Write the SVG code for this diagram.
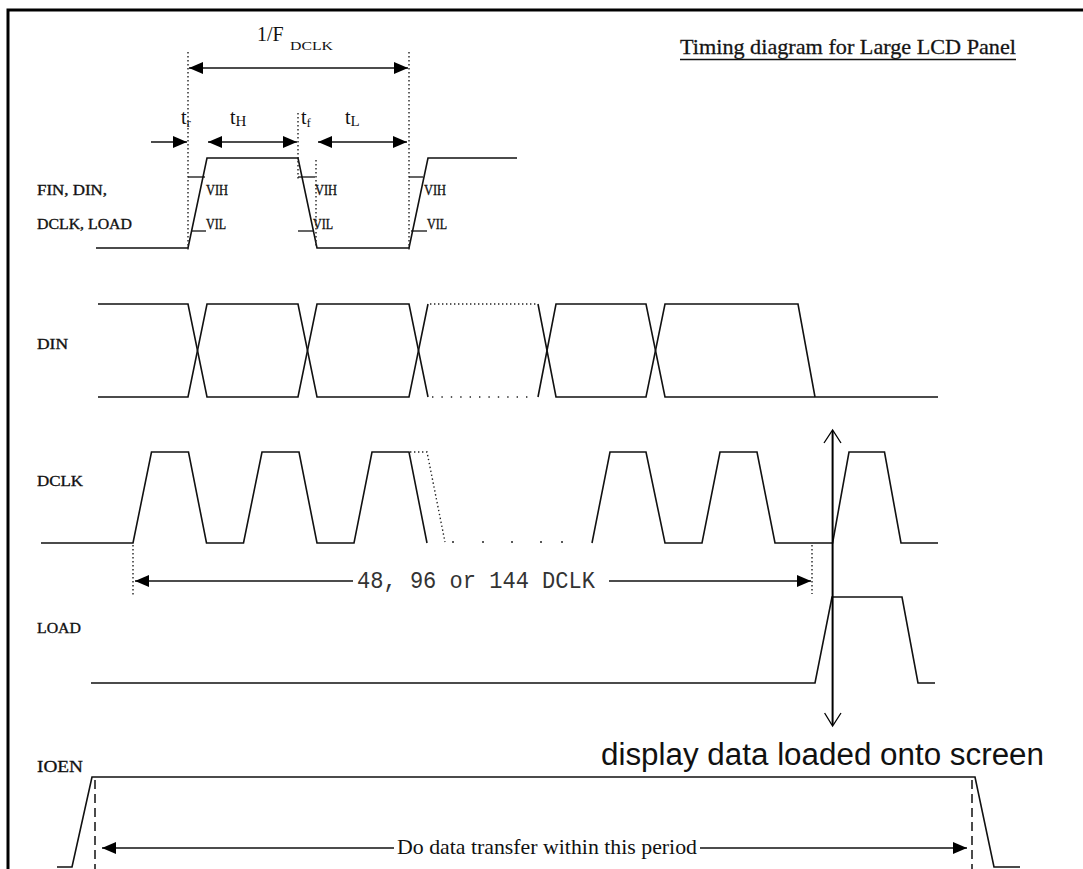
<svg xmlns="http://www.w3.org/2000/svg" width="1083" height="869" viewBox="0 0 1083 869">
<defs>
<marker id="ah" markerUnits="userSpaceOnUse" markerWidth="15" markerHeight="12" refX="14" refY="6" orient="auto-start-reverse" viewBox="0 0 15 12">
<path d="M0,0 L14,6 L0,12 z" fill="#000"/>
</marker>
</defs>
<style>
.w{fill:none;stroke:#111;stroke-width:1.6;stroke-linejoin:miter}
.dot{fill:none;stroke:#222;stroke-width:1.4;stroke-dasharray:1.4 2.6}
.sdot{fill:none;stroke:#222;stroke-width:1.4;stroke-dasharray:1.4 8}
.dash{fill:none;stroke:#111;stroke-width:1.5;stroke-dasharray:9 5}
.dim{fill:none;stroke:#111;stroke-width:1.5}
.arr{marker-end:url(#ah)}
.arr2{marker-start:url(#ah);marker-end:url(#ah)}
.lbl{font-family:"Liberation Serif",serif;font-size:15px;fill:#111;stroke:#111;stroke-width:0.35}
.ser{font-family:"Liberation Serif",serif;fill:#111}
.mono{font-family:"Liberation Mono",monospace;fill:#333}
.sans{font-family:"Liberation Sans",sans-serif;fill:#111}
</style>
<rect width="1083" height="869" fill="#fff"/>
<g id="frame">
<path d="M8,869 V10 H1083" fill="none" stroke="#000" stroke-width="3"/>
</g>
<g id="title">
<text class="ser" x="680" y="54" font-size="22" textLength="336" lengthAdjust="spacingAndGlyphs" stroke="#222" stroke-width="0.3">Timing diagram for Large LCD Panel</text>
<line x1="680" y1="59.5" x2="1016" y2="59.5" stroke="#111" stroke-width="1.3"/>
</g>
<g id="timing-params">
<path class="w" d="M96,248 L188,248 L207,158 L298,158 L317,248 L409,248 L428,158 L517,158"/>
<g stroke="#111" stroke-width="1.3">
<line x1="188" y1="177" x2="205" y2="177"/>
<line x1="298" y1="177" x2="315" y2="177"/>
<line x1="409" y1="177" x2="423" y2="177"/>
<line x1="191" y1="231" x2="206" y2="231"/>
<line x1="298" y1="231" x2="313" y2="231"/>
<line x1="411" y1="231" x2="427" y2="231"/>
</g>
<text class="lbl" x="37" y="195" textLength="70" lengthAdjust="spacingAndGlyphs">FIN, DIN,</text>
<text class="lbl" x="37" y="229" textLength="95" lengthAdjust="spacingAndGlyphs">DCLK, LOAD</text>
<text class="lbl" x="206" y="195" textLength="22" lengthAdjust="spacingAndGlyphs">VIH</text>
<text class="lbl" x="315" y="195" textLength="22" lengthAdjust="spacingAndGlyphs">VIH</text>
<text class="lbl" x="424" y="195" textLength="22" lengthAdjust="spacingAndGlyphs">VIH</text>
<text class="lbl" x="206" y="229" textLength="20" lengthAdjust="spacingAndGlyphs">VIL</text>
<text class="lbl" x="313" y="229" textLength="20" lengthAdjust="spacingAndGlyphs">VIL</text>
<text class="lbl" x="427" y="229" textLength="20" lengthAdjust="spacingAndGlyphs">VIL</text>
<text class="ser" x="257" y="41" font-size="20">1/F</text>
<text class="ser" x="290" y="50" font-size="13" textLength="43" lengthAdjust="spacingAndGlyphs">DCLK</text>
<text class="ser" x="181" y="124" font-size="20">t<tspan font-size="13" dy="3">r</tspan></text>
<text class="ser" x="230" y="124" font-size="20">t<tspan font-size="15" dy="2">H</tspan></text>
<text class="ser" x="301" y="124" font-size="20">t<tspan font-size="13" dy="3">f</tspan></text>
<text class="ser" x="345" y="124" font-size="20">t<tspan font-size="15" dy="2">L</tspan></text>
</g>
<g id="din">
<text class="lbl" x="37" y="349" font-size="16" textLength="31" lengthAdjust="spacingAndGlyphs">DIN</text>
<path class="w" d="M98,304 L188,304 L207,397 L298,397 L317,304 L409,304 L428,397"/>
<path class="w" d="M98,397 L188,397 L207,304 L298,304 L317,397 L409,397 L428,304"/>
<path class="dot" d="M430,304 H537"/>
<path class="sdot" d="M432,397 H528"/>
<path class="w" d="M538,304 L556,397 L646,397 L665,304 L798,304 L815,397"/>
<path class="w" d="M538,397 L556,304 L646,304 L665,397 L938,397"/>
</g>
<g id="dclk">
<text class="lbl" x="37" y="486" font-size="16" textLength="46" lengthAdjust="spacingAndGlyphs">DCLK</text>
<path class="w" d="M41,543 L133,543 L151.5,452 L188.5,452 L206.5,543 L243.5,543 L262,452 L299,452 L317,543 L354,543 L372,452 L409,452 L427,543"/>
<path class="dot" d="M410,452 L427,452 L445,542"/>
<g fill="#222">
<circle cx="453" cy="542" r="1"/><circle cx="483" cy="542" r="1"/><circle cx="512" cy="542" r="1"/><circle cx="541" cy="542" r="1"/><circle cx="562" cy="542" r="1"/>
</g>
<path class="w" d="M592,543 L610,452 L646,452 L665,543 L702,543 L720,452 L757,452 L775,543 L832.6,543 L849,452 L884.5,452 L901,543 L938,543"/>
</g>
<g id="load">
<text class="lbl" x="37" y="633" font-size="16" textLength="44" lengthAdjust="spacingAndGlyphs">LOAD</text>
<path class="w" d="M91,683 L815,683 L832,597 L902,597 L918,683 L935,683"/>
</g>
<g id="ioen">
<text class="ser" x="37" y="772" font-size="17" textLength="46" lengthAdjust="spacingAndGlyphs" stroke="#111" stroke-width="0.3">IOEN</text>
<path class="w" d="M57,867 L72,867 L92,777 L975,777 L994,867 L1020,867"/>
<path class="dash" d="M95,780 V869"/>
<path class="dash" d="M972,780 V869"/>
</g>
<g id="connectors">
<path class="dot" d="M188,52 V250"/>
<path class="dot" d="M409,52 V250"/>
<path class="dot" d="M298,113 V180"/>
<path class="dot" d="M316,160 V248"/>
<line class="dim arr2" x1="189" y1="68" x2="408" y2="68"/>
<line class="dim arr" x1="151" y1="142" x2="187" y2="142"/>
<line class="dim arr2" x1="208" y1="142" x2="297" y2="142"/>
<line class="dim arr2" x1="318" y1="142" x2="407" y2="142"/>
<path class="dot" d="M133,545 V596"/>
<path class="dot" d="M812,545 V594"/>
<line class="dim arr" x1="353" y1="581" x2="135" y2="581"/>
<line class="dim arr" x1="609" y1="581" x2="811" y2="581"/>
<text class="mono" x="357" y="588" font-size="24" textLength="238" lengthAdjust="spacingAndGlyphs">48, 96 or 144 DCLK</text>
<line x1="832.6" y1="431" x2="832.6" y2="725" stroke="#000" stroke-width="2"/>
<polyline points="824,443 832.6,430 841,443" fill="none" stroke="#000" stroke-width="1.3"/>
<polyline points="824.6,713 832.6,726 841,713" fill="none" stroke="#000" stroke-width="1.3"/>
<text class="sans" x="601" y="765" font-size="31" textLength="443" lengthAdjust="spacingAndGlyphs">display data loaded onto screen</text>
<line class="dim arr" x1="394" y1="848" x2="102" y2="848"/>
<line class="dim arr" x1="700" y1="848" x2="967" y2="848"/>
<text class="ser" x="397" y="854" font-size="21" textLength="300" lengthAdjust="spacingAndGlyphs">Do data transfer within this period</text>
</g>
</svg>
